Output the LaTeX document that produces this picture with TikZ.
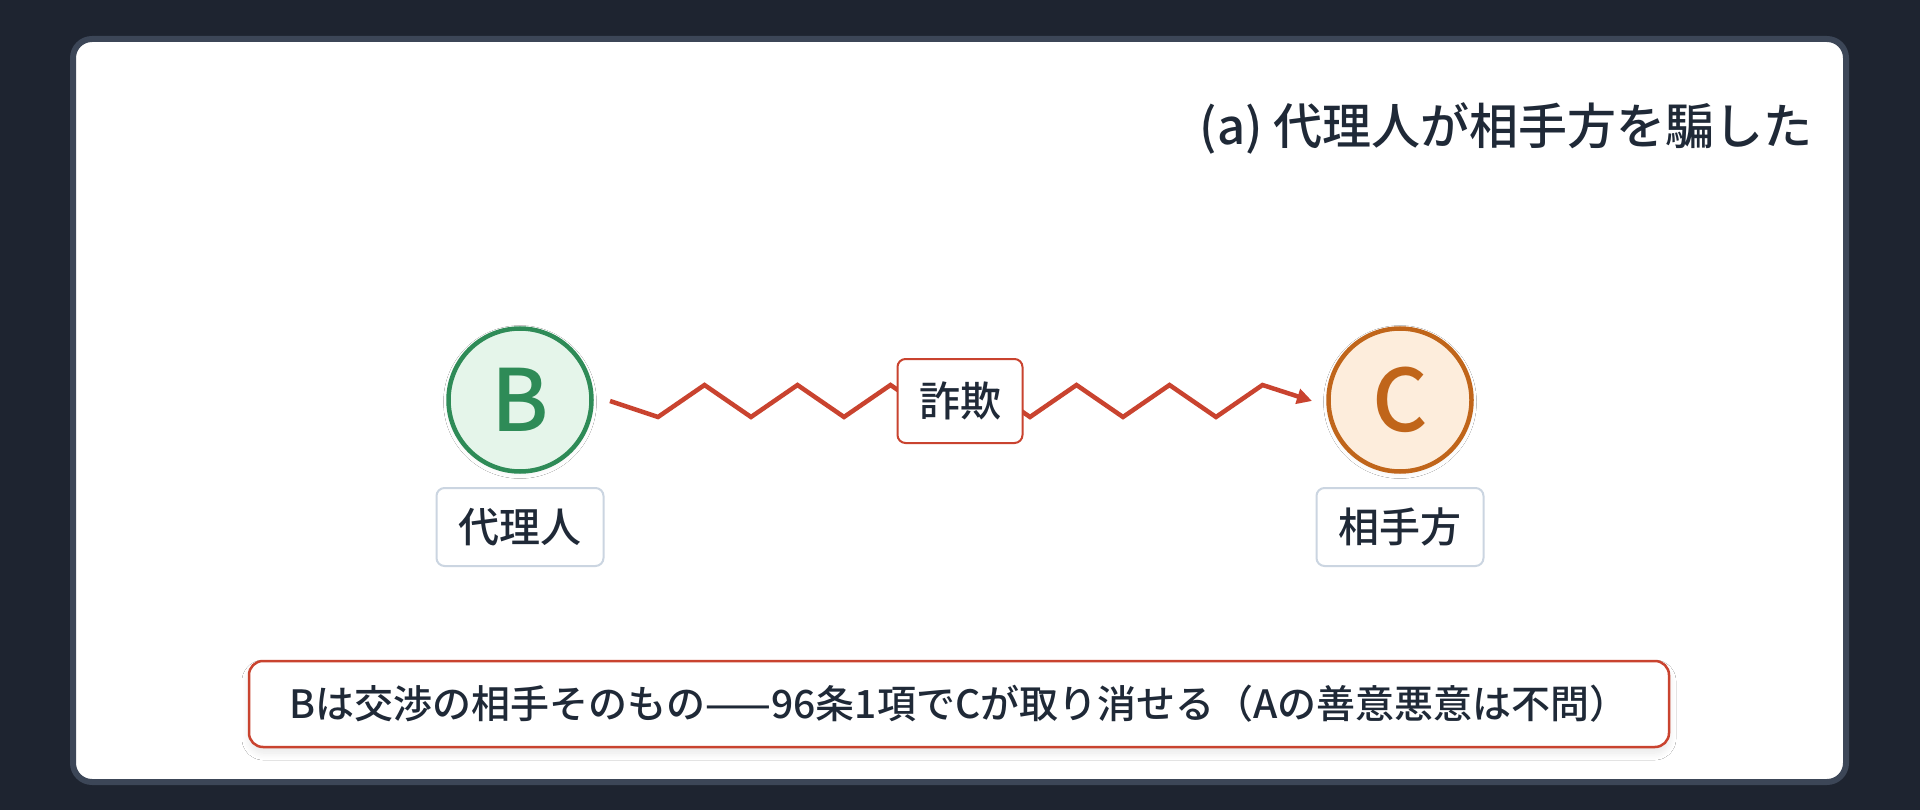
\documentclass[tikz,border=0pt]{standalone}
\usepackage{fontspec}
\setmainfont{Noto Sans CJK JP Medium}[BoldFont={Noto Sans CJK JP Bold}]
\usetikzlibrary{arrows.meta,shadows.blur}
\definecolor{bgdark}{HTML}{1E2430}
\definecolor{panelborder}{HTML}{3C4657}
\definecolor{txt}{HTML}{1F2937}
\definecolor{gstroke}{HTML}{2E8B57}
\definecolor{gfill}{HTML}{E5F5EA}
\definecolor{ostroke}{HTML}{C0651A}
\definecolor{ofill}{HTML}{FDEDDC}
\definecolor{redline}{HTML}{C9432F}
\definecolor{grayborder}{HTML}{CBD5E1}
\tikzset{
  party/.style={circle, line width=4.5pt, minimum size=143pt, inner sep=0pt,
    font=\fontsize{86pt}{90pt}\selectfont,
    blur shadow={shadow xshift=0pt, shadow yshift=-2pt, shadow blur radius=5pt, shadow opacity=6, shadow blur steps=12}},
  rolebox/.style={draw=grayborder, line width=2pt, fill=white, rounded corners=8pt,
    minimum width=167pt, minimum height=78pt, inner sep=0pt, text=txt,
    font=\fontsize{41pt}{46pt}\selectfont},
  actbox/.style={draw=redline, line width=2pt, fill=white, rounded corners=8pt,
    minimum width=125pt, minimum height=84pt, inner sep=0pt, text=txt,
    font=\fontsize{41pt}{46pt}\selectfont},
  notebox/.style={draw=redline, line width=2.5pt, fill=white, rounded corners=14pt,
    minimum width=1420pt, minimum height=86pt, inner sep=0pt, text=txt,
    font=\fontsize{39pt}{44pt}\selectfont,
    blur shadow={shadow xshift=0pt, shadow yshift=-6pt, shadow blur radius=7pt, shadow opacity=9, shadow blur steps=12}},
  zig/.style={draw=redline, line width=4.5pt, line join=miter,
    -{Triangle[length=15pt,width=15pt]}}
}
\begin{document}
\begin{tikzpicture}[x=1pt,y=-1pt]
\fill[bgdark] (0,0) rectangle (1920,810);
\useasboundingbox (0,0) rectangle (1920,810);
\draw[panelborder, line width=6pt, fill=white, rounded corners=19pt] (73,39) rectangle (1846,782);
\node[anchor=base east, text=txt, font=\fontsize{49pt}{60pt}\selectfont, inner sep=0pt] (title) at (1813,145) {(a) 代理人が相手方を騙した};
\node[party, draw=gstroke, fill=gfill, text=gstroke] (B) at (520,400) {B};
\node[party, draw=ostroke, fill=ofill, text=ostroke] (C) at (1400,400) {C};
\node[rolebox] (Blabel) at (520,527) {代理人};
\node[rolebox] (Clabel) at (1400,527) {相手方};
\coordinate (zs) at (610,401);
\coordinate (ze) at (1312,401);
\draw[zig] (zs) -- (658,417) -- (704.5,385) -- (751,417) -- (797.5,385) -- (844,417) -- (890.5,385)
  -- (937,417) -- (983.5,385) -- (1030,417) -- (1076.5,385) -- (1123,417) -- (1169.5,385)
  -- (1216,417) -- (1262.5,385) -- (ze);
\node[actbox] (fraud) at (960,401) {詐欺};
\node[notebox] (note) at (959,704) {Bは交渉の相手そのもの——96条1項でCが取り消せる（Aの善意悪意は不問）};
\end{tikzpicture}
\end{document}
